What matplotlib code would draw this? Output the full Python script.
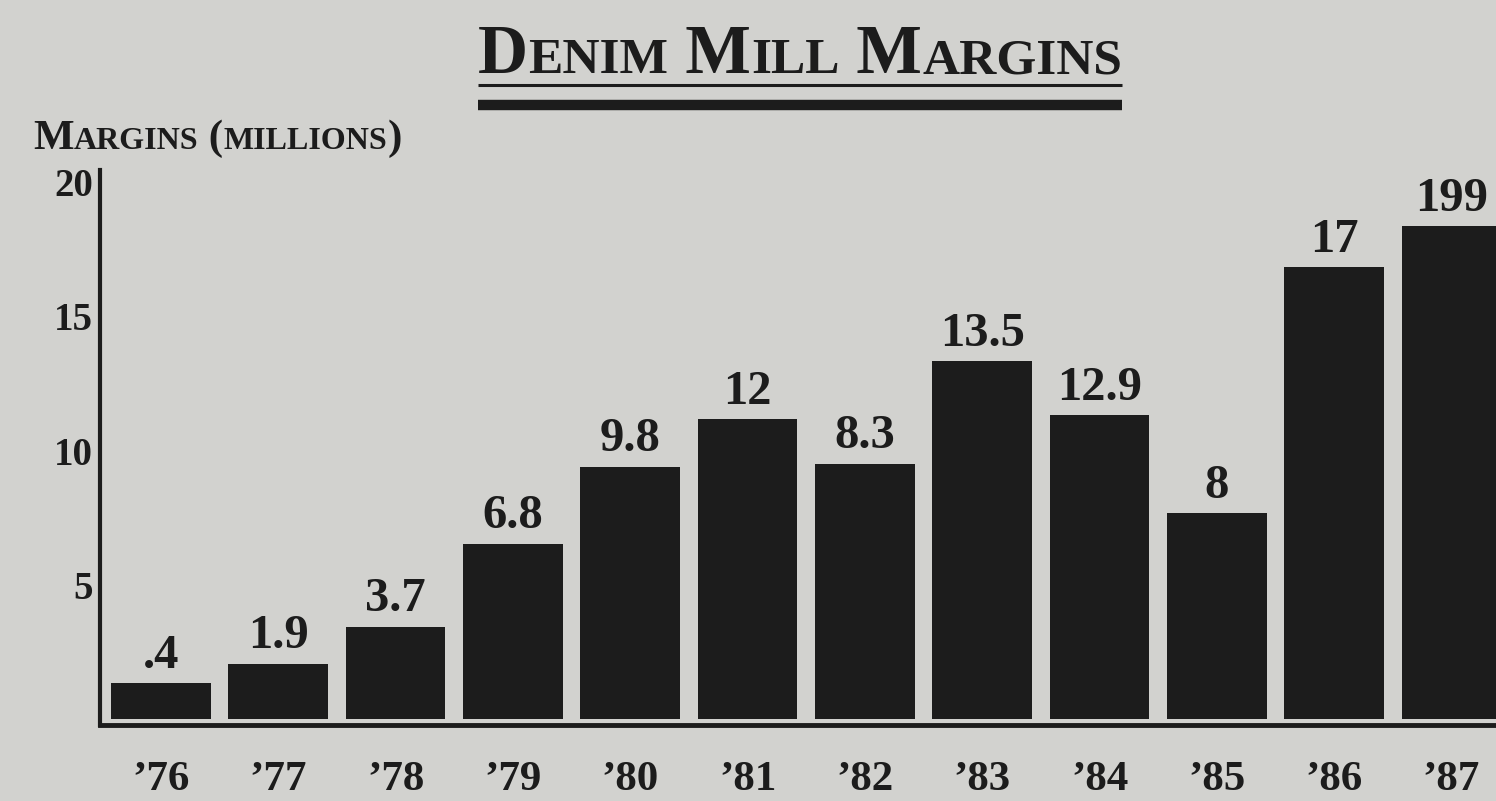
import matplotlib
matplotlib.use("Agg")
import matplotlib.pyplot as plt
from matplotlib.lines import Line2D

# data
years = ["’76", "’77", "’78", "’79", "’80", "’81", "’82", "’83", "’84", "’85", "’86", "’87"]
value_labels = [".4", "1.9", "3.7", "6.8", "9.8", "12", "8.3", "13.5", "12.9", "8", "17", "199"]
# bar heights as drawn in the original (the artwork isn't to scale with its labels)
bar_heights = [1.34, 2.05, 3.43, 6.52, 9.39, 11.17, 9.50, 13.33, 11.32, 7.67, 16.83, 18.36]
yticks = [5, 10, 15, 20]

BG = "#d2d2cf"
INK = "#1c1c1c"
SERIF = ["Liberation Serif", "DejaVu Serif"]

fig = plt.figure(figsize=(14.96, 8.01), dpi=100, facecolor=BG)
renderer = fig.canvas.get_renderer()


def smallcaps(x, y, text, big, small, ha="left"):
    """Draw fake small caps: upper case at `big`, lower case upper-cased at `small`."""
    runs = []
    for ch in text:
        size = small if ch.islower() else big
        if runs and runs[-1][1] == size:
            runs[-1][0] += ch.upper()
        else:
            runs.append([ch.upper(), size])
    arts = []
    cx = x
    for s, size in runs:
        t = fig.text(cx, y, s, fontsize=size, fontweight="bold", family=SERIF,
                     color=INK, va="baseline", ha="left")
        w = t.get_window_extent(renderer).width / fig.bbox.width
        arts.append((t, cx))
        cx += w
    if ha == "center":
        shift = (cx - x) / 2
        for t, px in arts:
            t.set_x(px - shift)
    return cx - x


# title with double rule
title_cx = 800 / 1496
title_w = smallcaps(title_cx, 1 - 73 / 801, "Denim Mill Margins", 50, 37, ha="center")
x0, x1 = title_cx - title_w / 2, title_cx + title_w / 2
fig.add_artist(Line2D([x0, x1], [1 - 85 / 801] * 2, color=INK, lw=2.2,
                      solid_capstyle="butt", transform=fig.transFigure))
fig.add_artist(Line2D([x0, x1], [1 - 105 / 801] * 2, color=INK, lw=7.5,
                      solid_capstyle="butt", transform=fig.transFigure))

# axis caption
smallcaps(33 / 1496, 1 - 149 / 801, "Margins (millions)", 31, 23)

ax = fig.add_axes([100 / 1496, 1 - 725 / 801, 1 - 100 / 1496, (725 - 170) / 801])
ax.set_facecolor(BG)

x = range(len(years))
bars = ax.bar(x, bar_heights, width=0.85, color=INK, edgecolor=INK, linewidth=0)
for rect, lab in zip(bars, value_labels):
    ax.annotate(lab, (rect.get_x() + rect.get_width() / 2, rect.get_height()),
                xytext=(0, 4), textcoords="offset points", ha="center", va="bottom",
                fontsize=35, fontweight="bold", family=SERIF, color=INK)

ax.set_xlim(-0.52, 11.38)
ax.set_ylim(-0.22, 20.45)
ax.set_xticks(list(x))
ax.set_xticklabels(years, fontsize=31, fontweight="bold", family=SERIF, color=INK)
ax.set_yticks(yticks)
ax.set_yticklabels([str(v) for v in yticks], fontsize=28, fontweight="bold",
                   family=SERIF, color=INK)
ax.tick_params(axis="both", length=0)
ax.tick_params(axis="x", pad=26)
ax.tick_params(axis="y", pad=5)

for side in ("top", "right"):
    ax.spines[side].set_visible(False)
ax.spines["left"].set_linewidth(3)
ax.spines["bottom"].set_linewidth(3.5)
ax.spines["left"].set_color(INK)
ax.spines["bottom"].set_color(INK)

fig.savefig("out.png", dpi=100, facecolor=BG)
